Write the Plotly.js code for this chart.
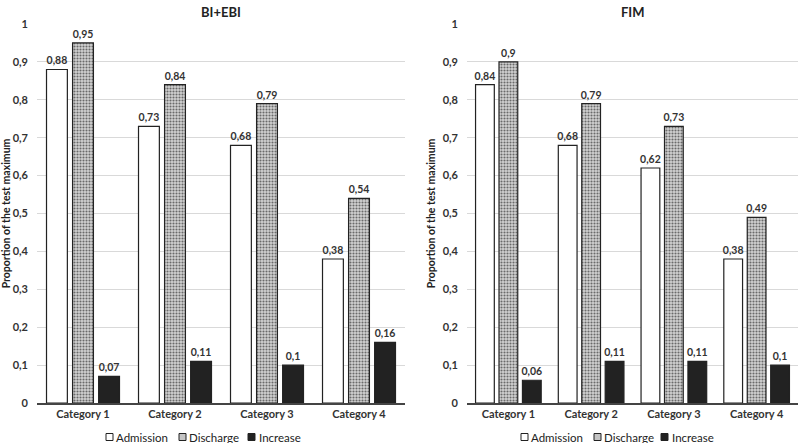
<!DOCTYPE html>
<html><head><meta charset="utf-8">
<script src="https://cdn.plot.ly/plotly-3.0.1.min.js"></script>
<style>html,body{margin:0;padding:0;background:#fff}</style>
</head><body><div id="chart" style="width:800px;height:443px"></div>
<script>
const categories = ["Category 1","Category 2","Category 3","Category 4"];
const biAdmission = [0.88,0.73,0.68,0.38];
const biDischarge = [0.95,0.84,0.79,0.54];
const biIncrease  = [0.07,0.11,0.10,0.16];
const fimAdmission = [0.84,0.68,0.62,0.38];
const fimDischarge = [0.90,0.79,0.73,0.49];
const fimIncrease  = [0.06,0.11,0.11,0.10];
const seriesNames = ["Admission","Discharge","Increase"];
const panelTitles = ["BI+EBI","FIM"];
const yTitle = "Proportion of the test maximum";

const W = 800, H = 443, ML = 37, MR = 2, MT = 24, MB = 40;
const PW = W - ML - MR, PH = H - MT - MB;
const px = x => (x - ML) / PW;          // pixel x -> paper x
const py = y => (H - MB - y) / PH;      // pixel y -> paper y

const FONT = "Lato, 'Open Sans', sans-serif";
const lbl = {family: FONT, size: 10.5, color: "#333", weight: "bold"};
const tickf = {family: FONT, size: 11, color: "#333", weight: "bold"};
const fills = ["#ffffff", "#c4c4c4", "#222222"];
const styles = [
  {color: fills[0], line: {color: "#222", width: 1.2}},
  {color: fills[1], line: {color: "#222", width: 1.2}, pattern: {shape: ".", fgcolor: "#6a6a6a", bgcolor: "#d2d2d2", size: 3, solidity: 0.4}},
  {color: fills[2], line: {color: "#222", width: 1.2}}
];
function mk(vals, i, xa, ya){
  return {type: "bar", x: categories, y: vals, name: seriesNames[i],
    xaxis: xa, yaxis: ya, showlegend: false, marker: styles[i],
    text: vals.map(v => String(v).replace('.', ',')), textposition: "outside",
    constraintext: "none", textfont: lbl, cliponaxis: false, hoverinfo: "none"};
}
const data = [
  mk(biAdmission,0,"x","y"), mk(biDischarge,1,"x","y"), mk(biIncrease,2,"x","y"),
  mk(fimAdmission,0,"x2","y2"), mk(fimDischarge,1,"x2","y2"), mk(fimIncrease,2,"x2","y2")
];
const yax = (anchor) => ({anchor: anchor, range: [0,1], dtick: 0.1, tick0: 0,
  showgrid: true, gridcolor: "#d9d9d9", gridwidth: 1, zeroline: false, showline: false,
  ticks: "", ticklabelstandoff: 8, tickfont: tickf, automargin: false,
  title: {text: yTitle, font: {family: FONT, size: 10.5, color: "#222", weight: "bold"}, standoff: 4}});
const xax = (anchor, dom) => ({anchor: anchor, domain: dom, showline: true, linecolor: "#444", linewidth: 1.5,
  ticks: "", tickfont: tickf, showgrid: false, automargin: false});

// custom compact legends (positions in pixels)
const legendItems = [
  {sym: [106, 179, 248], txt: [115, 188, 258]},
  {sym: [521, 594, 661], txt: [530, 603, 671]}
];
const legY = 437, sq = 7;
const shapes = [], annotations = [];
legendItems.forEach(li => {
  for (let i = 0; i < 3; i++) {
    shapes.push({type: "rect", xref: "paper", yref: "paper",
      x0: px(li.sym[i]), x1: px(li.sym[i] + sq), y0: py(legY + sq/2), y1: py(legY - sq/2),
      fillcolor: fills[i], line: {color: "#222", width: 1}});
    annotations.push({text: seriesNames[i], xref: "paper", yref: "paper", x: px(li.txt[i]), y: py(legY),
      xanchor: "left", yanchor: "middle", showarrow: false, xshift: -1,
      font: {family: FONT, size: 11.5, color: "#222"}});
  }
});
panelTitles.forEach((t, k) => annotations.push({text: t, x: 0.5, xref: (k ? "x2" : "x") + " domain",
  y: py(12), yref: "paper", yanchor: "middle", showarrow: false,
  font: {family: FONT, size: 13, color: "#222", weight: "bold"}}));

const layout = {
  width: W, height: H, margin: {l: ML, r: MR, t: MT, b: MB},
  paper_bgcolor: "#fff", plot_bgcolor: "#fff", separators: ",.",
  barmode: "group", bargap: 0.15, bargroupgap: 0.2, showlegend: false,
  xaxis: xax("y", [0, px(405)]), yaxis: yax("x"),
  xaxis2: xax("y2", [px(467), 1]), yaxis2: yax("x2"),
  shapes: shapes, annotations: annotations
};
Plotly.newPlot("chart", data, layout, {displayModeBar: false, staticPlot: true});
</script></body></html>
